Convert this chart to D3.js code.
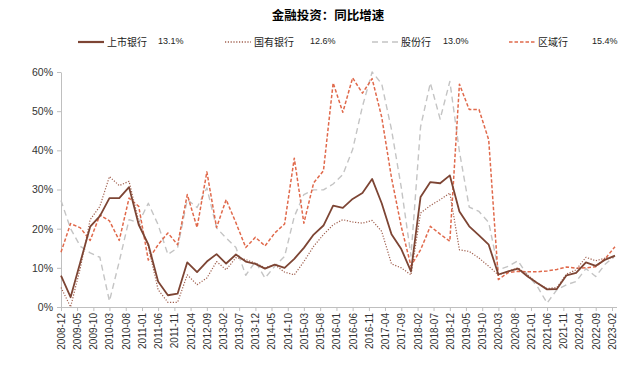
<!DOCTYPE html>
<html>
<head>
<meta charset="utf-8">
<script src="https://cdn.jsdelivr.net/npm/d3@7"></script>
<style>
  body { margin: 0; background: #fff; }
  svg { display: block; }
</style>
</head>
<body>
<div id="chart"></div>
<script>
// quarterly reporting dates
let dates = ["2008-12","2009-03","2009-06","2009-09","2009-12","2010-03","2010-06","2010-09","2010-12",
  "2011-03","2011-06","2011-09","2011-12","2012-03","2012-06","2012-09","2012-12","2013-03","2013-06",
  "2013-09","2013-12","2014-03","2014-06","2014-09","2014-12","2015-03","2015-06","2015-09","2015-12",
  "2016-03","2016-06","2016-09","2016-12","2017-03","2017-06","2017-09","2017-12","2018-03","2018-06",
  "2018-09","2018-12","2019-03","2019-06","2019-09","2019-12","2020-03","2020-06","2020-09","2020-12",
  "2021-03","2021-06","2021-09","2021-12","2022-03","2022-06","2022-09","2022-12","2023-03"];

// 上市银行
let listed = [8.0,2.5,11.5,20.5,23.2,27.8,27.8,30.6,21.0,16.0,6.5,3.0,3.4,11.4,8.9,11.6,13.5,11.1,13.4,
  11.6,11.0,9.8,10.8,10.0,12.3,15.1,18.5,20.8,25.9,25.3,27.6,29.1,32.7,26.5,18.6,14.8,9.1,28.1,31.9,
  31.6,33.6,24.4,20.6,18.3,15.9,8.3,9.1,9.8,7.8,6.1,4.5,4.6,8.1,8.7,11.4,10.5,12.1,13.1];
// 国有银行
let stateOwned = [5.0,0.0,10.0,22.3,25.7,33.3,31.0,32.1,21.9,15.5,4.4,1.2,1.2,8.2,5.7,7.4,11.6,9.5,12.6,
  12.1,11.2,10.0,10.8,8.9,8.2,11.6,15.5,18.5,21.0,22.3,21.7,21.4,22.1,19.3,11.0,10.0,8.2,24.0,25.9,
  27.4,29.1,14.6,14.2,12.5,10.4,8.2,9.1,10.0,8.2,6.1,4.7,5.0,8.4,9.5,12.7,11.8,12.5,12.6];
// 股份行
let jointStock = [27.2,20.0,15.5,13.8,12.7,1.5,11.6,22.3,21.5,26.5,21.0,13.4,15.1,27.4,25.4,30.4,20.2,17.6,15.2,
  8.1,11.6,7.4,10.4,12.9,23.1,28.7,29.9,29.9,31.4,33.8,40.2,51.2,60.0,57.0,45.3,30.5,13.0,46.0,57.2,
  48.0,57.6,39.7,25.5,24.4,21.6,9.5,10.4,11.8,8.1,5.3,1.0,4.4,5.7,6.5,9.8,7.8,11.0,13.0];
// 区域行
let regional = [14.0,21.3,20.2,17.0,23.5,22.0,17.0,27.8,25.7,12.0,15.9,18.9,15.9,28.7,20.3,34.5,20.3,27.4,21.5,
  15.2,17.8,15.6,18.9,21.2,38.0,21.4,31.7,34.8,57.2,49.7,58.5,54.6,58.3,48.5,33.0,20.5,10.5,14.6,20.6,
  18.6,16.8,56.9,50.4,50.4,42.7,7.0,8.8,9.1,9.0,9.0,9.2,9.6,10.2,9.9,10.0,10.3,12.4,15.4];

let seriesNames = ["上市银行", "国有银行", "股份行", "区域行"];
let latestLabels = ["13.1%", "12.6%", "13.0%", "15.4%"];

let xTickLabels = ["2008-12","2009-05","2009-10","2010-03","2010-08","2011-01","2011-06","2011-11",
  "2012-04","2012-09","2013-02","2013-07","2013-12","2014-05","2014-10","2015-03","2015-08","2016-01",
  "2016-06","2016-11","2017-04","2017-09","2018-02","2018-07","2018-12","2019-05","2019-10","2020-03",
  "2020-08","2021-01","2021-06","2021-11","2022-04","2022-09","2023-02"];
let yTicks = [0, 10, 20, 30, 40, 50, 60];

//Options
let width = 640, height = 377;
let plotLeft = 61, plotRight = 617, plotTop = 72, plotBottom = 307;
let numFont = "'Liberation Sans', Arial, sans-serif";
let cjkFont = "'Noto Sans CJK SC', sans-serif";

let styles = [
  { color: "#7d4534", width: 1.8, dash: null },
  { color: "#a0604f", width: 1.2, dash: "1.2,1.6" },
  { color: "#c4c4c4", width: 1.4, dash: "6,4" },
  { color: "#e0694b", width: 1.5, dash: "3.5,2" }
];

let parse = d3.timeParse("%Y-%m");
let allSeries = [listed, stateOwned, jointStock, regional];

let svg = d3.select("#chart").append("svg")
  .attr("width", width)
  .attr("height", height);

let x_scale = d3.scaleTime()
  .domain([parse("2008-12"), parse("2023-02")])
  .range([plotLeft, 612]);

let y_scale = d3.scaleLinear()
  .domain([0, 60])
  .range([plotBottom, plotTop]);

// title
svg.append("text")
  .attr("x", 328)
  .attr("y", 20)
  .attr("text-anchor", "middle")
  .style("font-family", cjkFont)
  .style("font-size", "12.5px")
  .style("font-weight", "bold")
  .style("fill", "#000")
  .text("金融投资：同比增速");

// axes
let y_ax = d3.axisLeft(y_scale)
  .tickValues(yTicks)
  .tickSize(4)
  .tickSizeOuter(0)
  .tickFormat(d => d + "%");

let yg = svg.append("g")
  .attr("transform", `translate(${plotLeft},0)`)
  .call(y_ax);
yg.select(".domain").attr("stroke", "#bfbfbf");
yg.selectAll(".tick line").attr("stroke", "#bfbfbf");
yg.selectAll(".tick text")
  .attr("x", -8)
  .style("font-family", numFont)
  .style("font-size", "10.5px")
  .style("fill", "#333");

let x_ax = d3.axisBottom(x_scale)
  .tickValues(xTickLabels.map(parse))
  .tickSize(4)
  .tickSizeOuter(0)
  .tickFormat(d3.timeFormat("%Y-%m"));

let xg = svg.append("g")
  .attr("transform", `translate(0,${plotBottom})`)
  .call(x_ax);
xg.select(".domain")
  .attr("stroke", "#bfbfbf")
  .attr("d", `M${plotLeft},0.5H${plotRight}`);
xg.selectAll(".tick line").attr("stroke", "#bfbfbf");
xg.selectAll(".tick text")
  .attr("transform", "rotate(-90)")
  .attr("text-anchor", "end")
  .attr("x", -6)
  .attr("y", 0)
  .attr("dy", "0.35em")
  .style("font-family", numFont)
  .style("font-size", "10px")
  .style("fill", "#333");

// lines
let line = d3.line()
  .x((d, i) => x_scale(parse(dates[i])))
  .y(d => y_scale(d));

let lineOrder = [2, 3, 1, 0];
lineOrder.forEach(k => {
  svg.append("path")
    .datum(allSeries[k])
    .attr("fill", "none")
    .attr("stroke", styles[k].color)
    .attr("stroke-width", styles[k].width)
    .attr("stroke-dasharray", styles[k].dash)
    .attr("stroke-linejoin", "round")
    .attr("d", line);
});

// legend
let legendX = [78, 225, 372, 509];
let legendY = 42;
let pctX = [158, 310, 443, 592];

let lg = svg.append("g").attr("id", "legend");
seriesNames.forEach((name, k) => {
  lg.append("line")
    .attr("x1", legendX[k]).attr("x2", legendX[k] + 26)
    .attr("y1", legendY).attr("y2", legendY)
    .attr("stroke", styles[k].color)
    .attr("stroke-width", k == 0 ? 2.2 : 1.5)
    .attr("stroke-dasharray", styles[k].dash);
  lg.append("text")
    .attr("x", legendX[k] + 29)
    .attr("y", legendY + 4)
    .style("font-family", cjkFont)
    .style("font-size", "10px")
    .style("fill", "#222")
    .text(name);
  lg.append("text")
    .attr("x", pctX[k])
    .attr("y", legendY + 2)
    .style("font-family", numFont)
    .style("font-size", "9px")
    .style("fill", "#222")
    .text(latestLabels[k]);
});
</script>
</body>
</html>
